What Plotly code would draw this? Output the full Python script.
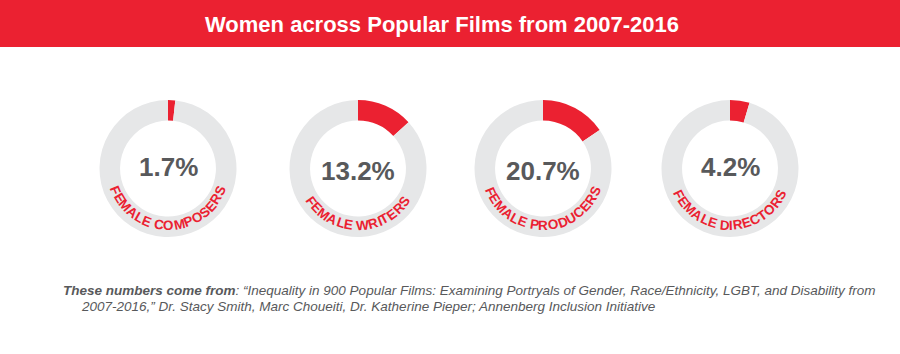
import math
import plotly.graph_objects as go

# ---- data ----
categories = ["FEMALE COMPOSERS", "FEMALE WRITERS", "FEMALE PRODUCERS", "FEMALE DIRECTORS"]
shares = [1.7, 13.2, 20.7, 4.2]
# share of the ring that is filled red, as drawn in the original graphic
ring_fill = [1.7, 13.2, 15.5, 4.6]
title_text = "Women across Popular Films from 2007-2016"
source_line1 = ("<b>These numbers come from</b>: \u201cInequality in 900 Popular Films: Examining "
                "Portryals of Gender, Race/Ethnicity, LGBT, and Disability from")
source_line2 = ("2007-2016,\u201d Dr. Stacy Smith, Marc Choueiti, Dr. Katherine Pieper; "
                "Annenberg Inclusion Initiative")

# ---- styling / layout ----
W, H = 900, 354
RED = "#EB2131"
GRAY_RING = "#E6E7E8"
DARK = "#58595B"
FONT = "Liberation Sans, Arial, sans-serif"
centers_x = [168, 358, 543, 730]
center_y = 168.5
R_OUT = 68.5
HOLE = 0.70
pct_y = [167, 171, 171, 167]
ARC_R = 57            # radius where letters sit
ARC_SPACING_R = 59    # radius used for letter advance
ARC_SIZE = 13.5

# Arial Bold advance widths (em)
AW = {"A": .722, "B": .722, "C": .722, "D": .722, "E": .667, "F": .611, "G": .778,
      "H": .722, "I": .278, "L": .611, "M": .833, "N": .722, "O": .778, "P": .667,
      "R": .722, "S": .667, "T": .611, "U": .722, "W": .944, " ": .278}


def px(x):
    return x / W


def py(y):
    return 1 - y / H


fig = go.Figure()

annotations = []
for cat, val, fill, cx, ty in zip(categories, shares, ring_fill, centers_x, pct_y):
    fig.add_trace(go.Pie(
        values=[fill, 100 - fill],
        labels=["Female", "Other"],
        sort=False,
        direction="clockwise",
        rotation=0,
        hole=HOLE,
        marker=dict(colors=[RED, GRAY_RING], line=dict(width=0)),
        textinfo="none",
        hoverinfo="skip",
        showlegend=False,
        domain=dict(x=[px(cx - R_OUT), px(cx + R_OUT)],
                    y=[py(center_y + R_OUT), py(center_y - R_OUT)]),
    ))
    annotations.append(dict(
        x=px(cx), y=py(ty), xref="paper", yref="paper", showarrow=False,
        text=f"{val}%", xanchor="center", yanchor="middle",
        font=dict(family=FONT, size=26, color=DARK, weight="bold"),
    ))
    # curved label along the bottom of the ring
    widths = [AW.get(c, .667) * ARC_SIZE for c in cat]
    total = sum(widths)
    start = 270 - math.degrees(total / ARC_SPACING_R) / 2
    pos = 0.0
    for c, w in zip(cat, widths):
        mid = pos + w / 2
        pos += w
        if c == " ":
            continue
        theta = start + math.degrees(mid / ARC_SPACING_R)
        t = math.radians(theta)
        x = cx + ARC_R * math.cos(t)
        y = center_y - ARC_R * math.sin(t)
        annotations.append(dict(
            x=px(x), y=py(y), xref="paper", yref="paper", showarrow=False,
            text=c, xanchor="center", yanchor="middle", textangle=270 - theta,
            font=dict(family=FONT, size=ARC_SIZE, color=RED, weight="bold"),
        ))

# title
annotations.append(dict(
    x=px(441.5), y=py(25), xref="paper", yref="paper", showarrow=False,
    text=title_text, xanchor="center", yanchor="middle",
    font=dict(family=FONT, size=22, color="white", weight="bold"),
))
# source note
annotations.append(dict(
    x=px(61), y=py(290.5), xref="paper", yref="paper", showarrow=False,
    text=source_line1, xanchor="left", yanchor="middle",
    font=dict(family=FONT, size=13.5, color=DARK, style="italic"),
))
annotations.append(dict(
    x=px(79), y=py(306.5), xref="paper", yref="paper", showarrow=False,
    text=source_line2, xanchor="left", yanchor="middle",
    font=dict(family=FONT, size=13.5, color=DARK, style="italic"),
))

fig.update_layout(
    width=W, height=H,
    margin=dict(l=0, r=0, t=0, b=0),
    paper_bgcolor="white", plot_bgcolor="white",
    shapes=[dict(type="rect", xref="paper", yref="paper", x0=0, x1=1,
                 y0=py(47), y1=1, fillcolor=RED, line=dict(width=0), layer="below")],
    annotations=annotations,
)

fig.write_html("out.html")
